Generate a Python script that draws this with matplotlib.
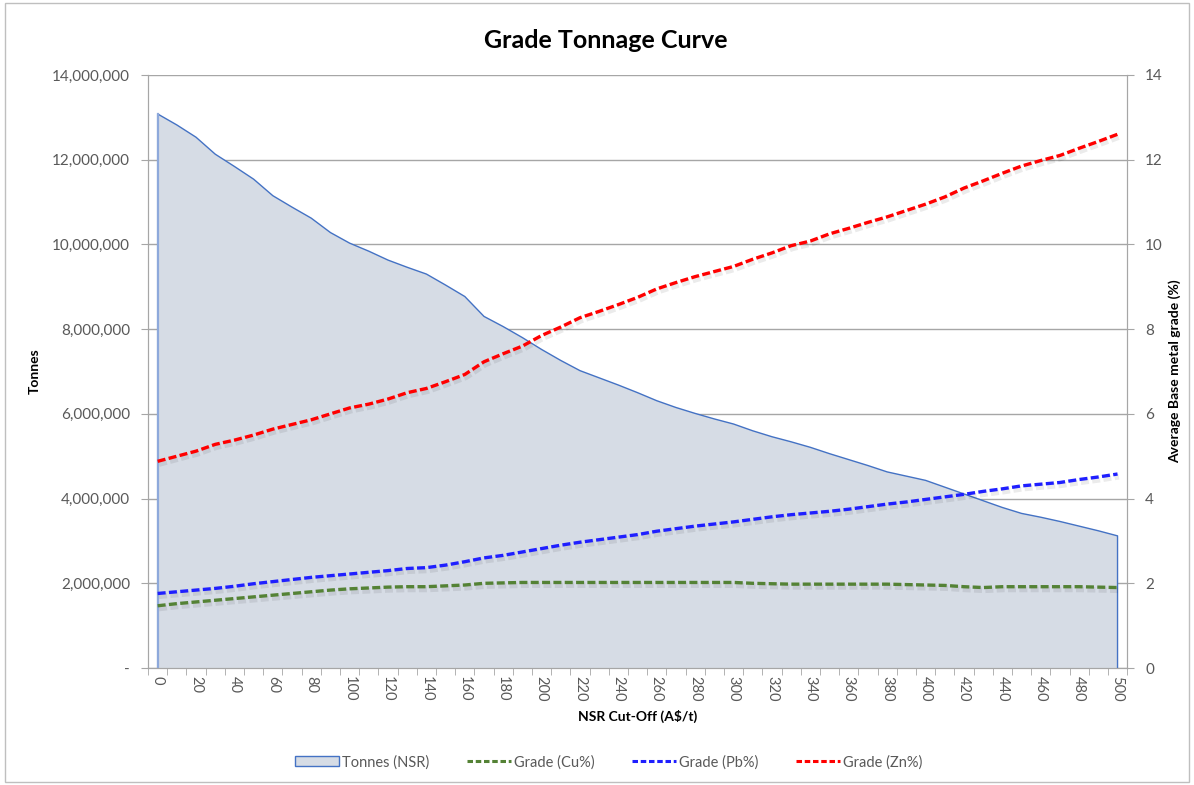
import numpy as np
import matplotlib
matplotlib.use("Agg")
import matplotlib.pyplot as plt
import matplotlib.patheffects as pe
from matplotlib.ticker import FuncFormatter, MultipleLocator
from matplotlib.patches import Patch
from matplotlib.lines import Line2D

# ================= DATA =================
cutoff = list(range(0, 510, 10))

tonnes_m = [13.08, 12.82, 12.53, 12.13, 11.84, 11.54, 11.15, 10.88, 10.62, 10.28,
            10.03, 9.84, 9.63, 9.46, 9.30, 9.04, 8.77, 8.30, 8.06, 7.80,
            7.52, 7.26, 7.02, 6.85, 6.68, 6.50, 6.31, 6.15, 6.01, 5.88,
            5.76, 5.60, 5.46, 5.34, 5.21, 5.06, 4.92, 4.78, 4.63, 4.53,
            4.43, 4.27, 4.11, 3.95, 3.79, 3.65, 3.56, 3.46, 3.35, 3.24,
            3.12]
tonnes = [t * 1e6 for t in tonnes_m]

grade_cu = [1.47, 1.52, 1.56, 1.60, 1.64, 1.68, 1.72, 1.76, 1.80, 1.84,
            1.87, 1.89, 1.91, 1.92, 1.92, 1.94, 1.96, 2.00, 2.01, 2.02,
            2.02, 2.02, 2.02, 2.02, 2.02, 2.02, 2.02, 2.02, 2.02, 2.02,
            2.02, 2.00, 1.99, 1.98, 1.98, 1.98, 1.98, 1.98, 1.98, 1.97,
            1.96, 1.95, 1.92, 1.90, 1.92, 1.92, 1.92, 1.92, 1.92, 1.91,
            1.90]

grade_pb = [1.76, 1.80, 1.84, 1.88, 1.93, 1.99, 2.04, 2.09, 2.14, 2.18,
            2.22, 2.26, 2.30, 2.35, 2.37, 2.43, 2.51, 2.60, 2.66, 2.74,
            2.82, 2.90, 2.97, 3.03, 3.09, 3.15, 3.23, 3.29, 3.35, 3.40,
            3.45, 3.51, 3.57, 3.62, 3.66, 3.70, 3.75, 3.81, 3.87, 3.92,
            3.98, 4.04, 4.10, 4.17, 4.23, 4.30, 4.34, 4.38, 4.45, 4.51,
            4.58]

grade_zn = [4.88, 5.00, 5.12, 5.28, 5.38, 5.50, 5.64, 5.75, 5.86, 6.00,
            6.14, 6.23, 6.35, 6.50, 6.60, 6.76, 6.93, 7.23, 7.42, 7.60,
            7.85, 8.05, 8.27, 8.42, 8.58, 8.75, 8.95, 9.10, 9.24, 9.36,
            9.48, 9.65, 9.80, 9.97, 10.08, 10.25, 10.38, 10.52, 10.65, 10.80,
            10.95, 11.12, 11.33, 11.50, 11.68, 11.85, 11.98, 12.10, 12.27, 12.43,
            12.60]

x_tick_labels = [str(v) for v in range(0, 520, 20)]

# ================= STYLE =================
plt.rcParams['font.family'] = ['Lato', 'DejaVu Sans']
TXT = "#595959"
GRID = "#A6A6A6"
FILL = "#D6DCE5"
EDGE = "#4472C4"
C_CU = "#548235"
C_PB = "#1F1FFF"
C_ZN = "#FF0000"

fig = plt.figure(figsize=(11.94, 7.85), dpi=100)
fig.patches.append(plt.Rectangle((0.004, 0.004), 0.992, 0.992, transform=fig.transFigure,
                                 fill=False, edgecolor="#BFBFBF", linewidth=1))

ax = fig.add_axes([0.124, 0.149, 0.820, 0.7555])
ax2 = ax.twinx()

# ----- tonnes area -----
ax.fill_between(cutoff, tonnes, 0, facecolor=FILL, edgecolor="none", zorder=2)
ax.plot([cutoff[0]] + cutoff + [cutoff[-1]], [0] + tonnes + [0], color=EDGE, lw=1, zorder=3)
ax.plot([cutoff[0], cutoff[0]], [0, tonnes[0]], color="#8EA9DB", lw=1.6, zorder=3)

ax.set_xlim(-5, 505)
ax.set_ylim(0, 14e6)
ax.yaxis.set_major_locator(MultipleLocator(2e6))
ax.yaxis.set_major_formatter(FuncFormatter(lambda v, p: "-" if v == 0 else f"{v:,.0f}"))
ax.grid(axis="y", color=GRID, lw=1)
ax.set_axisbelow(True)

ax.set_xticks(range(0, 510, 20))
ax.set_xticklabels(x_tick_labels, rotation=-90)
ax.set_xticks(np.arange(-5, 510, 10), minor=True)
ax.tick_params(axis="x", which="major", length=0, pad=6, labelsize=10.5, labelcolor=TXT)
ax.tick_params(axis="x", which="minor", length=5, color=GRID)
ax.tick_params(axis="y", length=5, color=GRID, labelsize=11, labelcolor=TXT, pad=8)

# ----- grade lines -----
shadow = [pe.SimpleLineShadow(offset=(1, -2), alpha=0.08, shadow_color="black", linewidth=4),
          pe.Normal()]
dash = (2.4, 1.0)
ax2.plot(cutoff, grade_cu, color=C_CU, lw=2.4, dashes=dash, path_effects=shadow)
ax2.plot(cutoff, grade_pb, color=C_PB, lw=2.4, dashes=dash, path_effects=shadow)
ax2.plot(cutoff, grade_zn, color=C_ZN, lw=2.4, dashes=dash, path_effects=shadow)
ax2.set_ylim(0, 14)
ax2.yaxis.set_major_locator(MultipleLocator(2))
ax2.tick_params(axis="y", length=5, color=GRID, labelsize=11, labelcolor=TXT, pad=8)

for a in (ax, ax2):
    a.spines["top"].set_visible(False)
    for s in ("left", "right", "bottom"):
        a.spines[s].set_color(GRID)

# ----- labels -----
fig.text(0.507, 0.948, "Grade Tonnage Curve", ha="center", va="center",
         fontsize=18, fontweight="bold", color="black")
ax.set_ylabel("Tonnes", fontsize=10, fontweight="bold", color="black", labelpad=8)
ax2.set_ylabel("Average Base metal grade (%)", fontsize=10, fontweight="bold", color="black", labelpad=4)
ax.set_xlabel("NSR Cut-Off (A\\$/t)", fontsize=10, fontweight="bold", color="black", labelpad=6)

# ----- legend -----
handles = [
    Patch(facecolor=FILL, edgecolor=EDGE, label="Tonnes (NSR)"),
    Line2D([], [], color=C_CU, lw=2.2, dashes=(1.8, 0.9), label="Grade (Cu%)"),
    Line2D([], [], color=C_PB, lw=2.2, dashes=(1.8, 0.9), label="Grade (Pb%)"),
    Line2D([], [], color=C_ZN, lw=2.2, dashes=(1.8, 0.9), label="Grade (Zn%)"),
]
fig.legend(handles=handles, loc="center", bbox_to_anchor=(0.51, 0.029), ncol=4, frameon=False,
           fontsize=10.5, labelcolor=TXT, handlelength=3.0, handletextpad=0.2, columnspacing=2.6)

plt.savefig("out.png", dpi=100)
